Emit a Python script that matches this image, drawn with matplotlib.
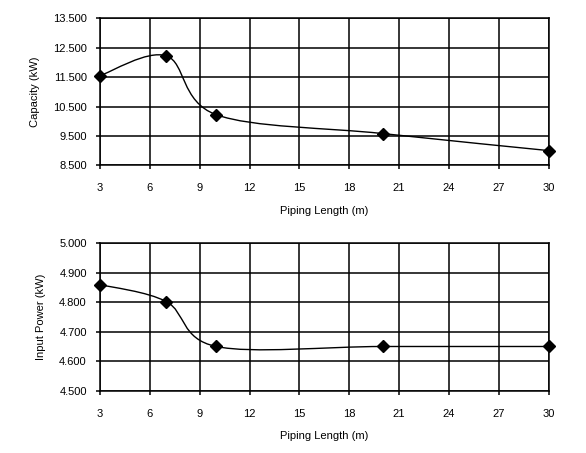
import matplotlib
matplotlib.use("Agg")
import matplotlib.pyplot as plt
from matplotlib.path import Path
from matplotlib.patches import PathPatch
import numpy as np

plt.rcParams['font.family'] = ['Liberation Sans', 'DejaVu Sans']

piping_length = [3, 7, 10, 20, 30]
capacity = [11.55, 12.22, 10.22, 9.58, 9.00]
input_power = [4.860, 4.802, 4.650, 4.650, 4.650]
x_ticks = [3, 6, 9, 12, 15, 18, 21, 24, 27, 30]
cap_ticks = [8.5, 9.5, 10.5, 11.5, 12.5, 13.5]
pow_ticks = [4.5, 4.6, 4.7, 4.8, 4.9, 5.0]


def smooth_path(xs, ys):
    pts = np.column_stack([xs, ys]).astype(float)
    n = len(pts)
    verts = [pts[0]]
    codes = [Path.MOVETO]
    for i in range(n - 1):
        p0 = pts[i - 1] if i > 0 else pts[i]
        p1 = pts[i]
        p2 = pts[i + 1]
        p3 = pts[i + 2] if i + 2 < n else pts[i + 1]
        c1 = p1 + (p2 - p0) / 6.0
        c2 = p2 - (p3 - p1) / 6.0
        verts += [c1, c2, p2]
        codes += [Path.CURVE4] * 3
    return Path(verts, codes)


fig = plt.figure(figsize=(5.86, 4.53), dpi=100)
ax1 = fig.add_axes([0.1706, 0.6351, 0.7658, 0.3245])
ax2 = fig.add_axes([0.1706, 0.1375, 0.7658, 0.3254])

specs = [
    (ax1, capacity, cap_ticks, 'Capacity (kW)'),
    (ax2, input_power, pow_ticks, 'Input Power (kW)'),
]

for ax, ys, yt, ylabel in specs:
    ax.add_patch(PathPatch(smooth_path(piping_length, ys), facecolor='none',
                           edgecolor='black', lw=1.0, zorder=3))
    ax.plot(piping_length, ys, linestyle='none', marker='D', markersize=6,
            color='black', zorder=4, clip_on=False)
    ax.set_xlim(3, 30)
    ax.set_ylim(yt[0], yt[-1])
    ax.set_xticks(x_ticks)
    ax.set_yticks(yt)
    ax.set_yticklabels([f"{v:.3f}" for v in yt])
    ax.grid(True, color='black', lw=1.1)
    ax.set_axisbelow(True)
    for s in ax.spines.values():
        s.set_color('black')
        s.set_linewidth(1.1)
    ax.tick_params(axis='both', direction='out', length=3, width=1.1,
                   labelsize=8, colors='black')
    ax.tick_params(axis='x', pad=10)
    ax.tick_params(axis='y', pad=6.5)
    ax.set_xlabel('Piping Length (m)', fontsize=8, labelpad=9)
    ax.set_ylabel(ylabel, fontsize=8, labelpad=9.5)

fig.savefig('out.png', dpi=100)
